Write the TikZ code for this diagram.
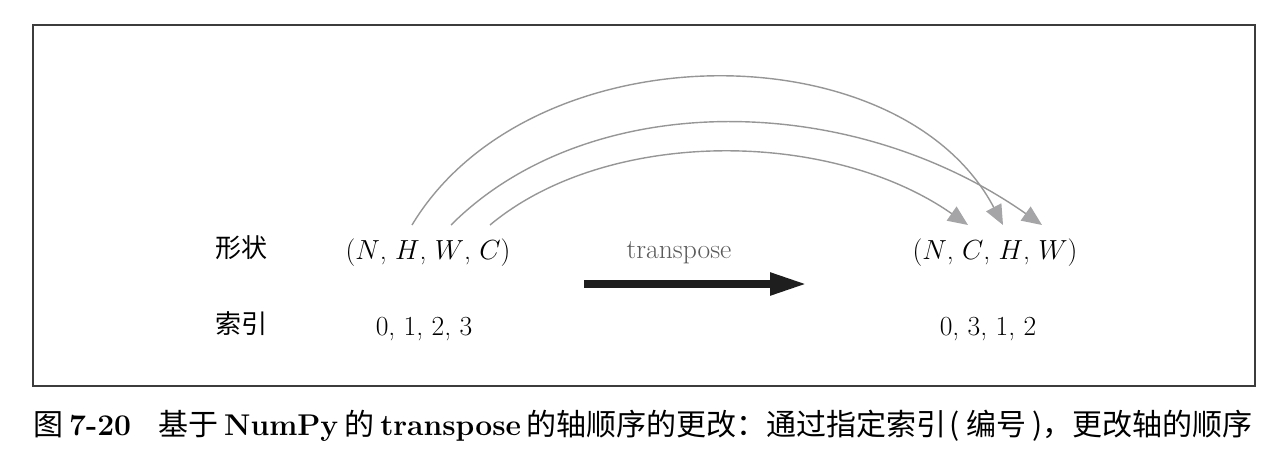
\RequirePackage{fix-cm}
\documentclass[tikz,border=0pt]{standalone}
\usepackage{fontspec}
\newfontfamily\cjk{Noto Sans CJK SC}
\usetikzlibrary{arrows.meta}
\definecolor{framegray}{RGB}{60,60,60}
\definecolor{arcgray}{RGB}{150,150,150}
\definecolor{tipgray}{RGB}{165,165,168}
\definecolor{txtgray}{RGB}{90,90,90}
\definecolor{arrowblack}{RGB}{30,30,30}
\newcommand{\cjkgap}{\hspace{0.2em}}
\begin{document}
\begin{tikzpicture}[x=1pt,y=-1pt,
  lbl/.style={inner sep=0pt, anchor=base, font=\fontsize{27.6}{30}\selectfont},
  cjklbl/.style={inner sep=0pt, anchor=base, font=\fontsize{26}{30}\selectfont\cjk},
  arcline/.style={draw=arcgray, line width=1.4pt, -{Triangle[length=20pt,width=17pt,color=tipgray]}},
  bigarrow/.style={draw=arrowblack, line width=8pt, -{Triangle[length=37pt,width=21pt]}},
]
\useasboundingbox (0,0) rectangle (1288,460);
\node[draw=framegray, line width=1.6pt, minimum width=1222pt, minimum height=361pt,
      anchor=north west, inner sep=0pt] (frame) at (32,24) {};
\node[cjklbl] (shapeL) at (241,257) {形状};
\node[cjklbl] (indexL) at (241,333) {索引};
\node[lbl] (src) at (428,259) {$(N$, $H$, $W$, $C)$};
\node[lbl] (srcidx) at (424,335) {0, 1, 2, 3};
\node[lbl, text=txtgray] (tp) at (679,258) {transpose};
\node[lbl] (dst) at (995,259) {$(N$, $C$, $H$, $W)$};
\node[lbl] (dstidx) at (988,335) {0, 3, 1, 2};
\coordinate (hS) at (412,225);
\coordinate (wS) at (451,225);
\coordinate (cS) at (490,225);
\coordinate (cT) at (968,225);
\coordinate (hT) at (1003,225);
\coordinate (wT) at (1042,225);
\draw[arcline] (hS) .. controls (530,29) and (900,29) .. (hT);
\draw[arcline] (wS) .. controls (587,89) and (848,89) .. (wT);
\draw[arcline] (cS) .. controls (606,128) and (829,128) .. (cT);
\coordinate (aS) at (584,284);
\coordinate (aT) at (807,284);
\draw[bigarrow] (aS) -- (aT);
\node[anchor=base west, inner sep=0pt, font=\fontsize{30}{34}\selectfont] (cap) at (33,435)
  {{\cjk 图}\cjkgap\textbf{7-20}\hspace{0.9em}{\cjk 基于}\cjkgap\textbf{NumPy}\cjkgap{\cjk 的}\cjkgap\textbf{transpose}\cjkgap{\cjk 的轴顺序的更改：通过指定索引\hspace{0.1em}(\hspace{0.2em}编号\hspace{0.2em})，更改轴的顺序}};
\end{tikzpicture}
\end{document}
